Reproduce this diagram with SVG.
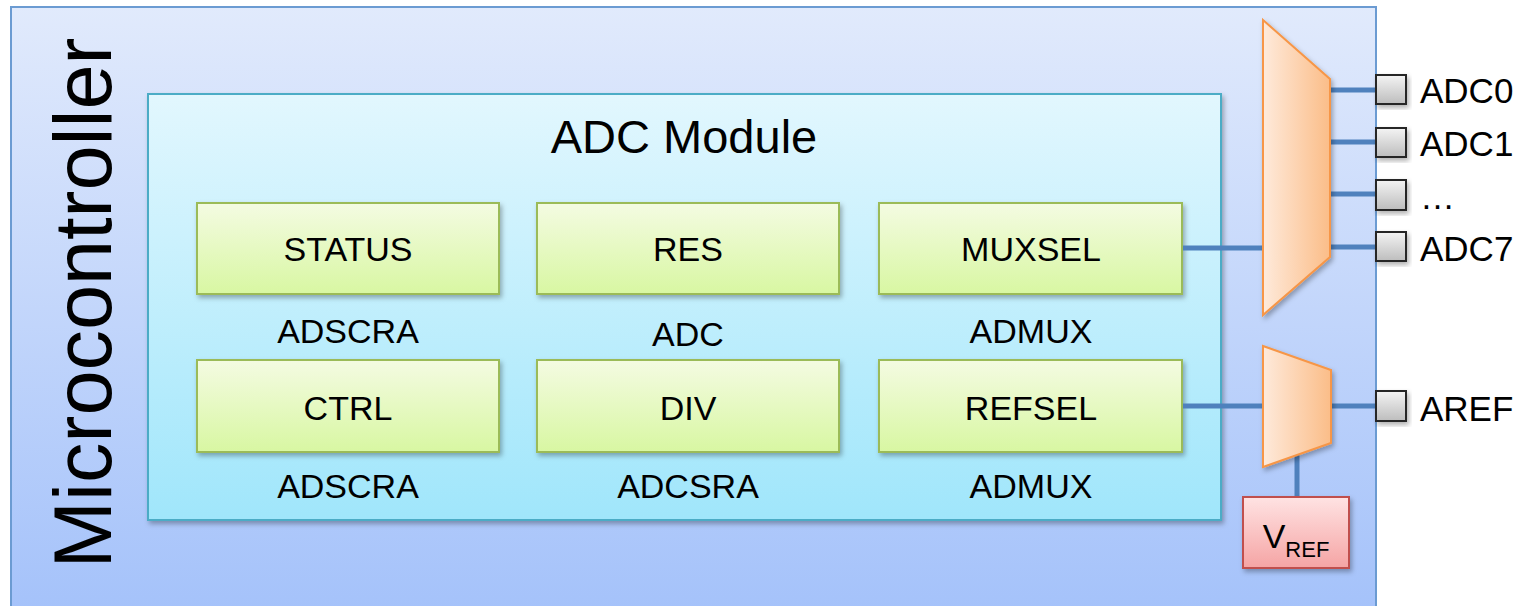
<svg xmlns="http://www.w3.org/2000/svg" width="1522" height="606" viewBox="0 0 1522 606">
<defs>
<linearGradient id="gOuter" x1="0" y1="0" x2="0" y2="1"><stop offset="0" stop-color="#e1eafc"/><stop offset="1" stop-color="#a3c1fa"/></linearGradient>
<linearGradient id="gAdc" x1="0" y1="0" x2="0" y2="1"><stop offset="0" stop-color="#e2f7fe"/><stop offset="1" stop-color="#a0e6fb"/></linearGradient>
<linearGradient id="gReg" x1="0" y1="0" x2="0" y2="1"><stop offset="0" stop-color="#f4fbe2"/><stop offset="1" stop-color="#d8f7a2"/></linearGradient>
<linearGradient id="gMux" x1="0" y1="0" x2="1" y2="0"><stop offset="0" stop-color="#feeadb"/><stop offset="1" stop-color="#fbbd88"/></linearGradient>
<linearGradient id="gPin" x1="0" y1="0" x2="0" y2="1"><stop offset="0" stop-color="#f4f4f4"/><stop offset="1" stop-color="#bdbdbd"/></linearGradient>
<linearGradient id="gRef" x1="0" y1="0" x2="0" y2="1"><stop offset="0" stop-color="#ffe3e3"/><stop offset="1" stop-color="#f5a4a4"/></linearGradient>
<filter id="sh" x="-10%" y="-10%" width="130%" height="130%"><feDropShadow dx="2" dy="3" stdDeviation="2.5" flood-color="#000" flood-opacity="0.3"/></filter>
</defs>
<style>
text{font-family:"Liberation Sans",Arial,sans-serif;fill:#000}
.reg{fill:url(#gReg);stroke:#9bbb59;stroke-width:2;filter:url(#sh)}
.rt{font-size:34px;text-anchor:middle}
.lbl{font-size:34px;text-anchor:middle}
.pin{fill:url(#gPin);stroke:#262626;stroke-width:2;filter:url(#sh)}
.pt{font-size:35px}
.mux{fill:url(#gMux);stroke:#f79646;stroke-width:2;filter:url(#sh)}
.wire{stroke:#4f81bd;stroke-width:5;fill:none}
</style>
<rect width="1522" height="606" fill="#ffffff"/>
<g id="microcontroller">
<rect x="11" y="7" width="1365" height="620" fill="url(#gOuter)" stroke="#6b9bd2" stroke-width="2"/>
<text transform="translate(111,303) rotate(-90)" font-size="81" text-anchor="middle">Microcontroller</text>
</g>
<g id="adc-module">
<rect x="148" y="94" width="1073" height="426" fill="url(#gAdc)" stroke="#4bacc6" stroke-width="2" filter="url(#sh)"/>
<text x="684" y="153" font-size="47" text-anchor="middle">ADC Module</text>
</g>
<g id="status"><rect class="reg" x="197" y="203" width="302" height="91"/><text class="rt" x="348" y="261">STATUS</text></g>
<g id="res"><rect class="reg" x="537" y="203" width="302" height="91"/><text class="rt" x="688" y="261">RES</text></g>
<g id="muxsel"><rect class="reg" x="879" y="203" width="303" height="91"/><text class="rt" x="1031" y="261">MUXSEL</text></g>
<g id="ctrl"><rect class="reg" x="197" y="360" width="302" height="92"/><text class="rt" x="348" y="420">CTRL</text></g>
<g id="div"><rect class="reg" x="537" y="360" width="302" height="92"/><text class="rt" x="688" y="420">DIV</text></g>
<g id="refsel"><rect class="reg" x="879" y="360" width="303" height="92"/><text class="rt" x="1031" y="420">REFSEL</text></g>
<g id="labels">
<text class="lbl" x="348" y="343">ADSCRA</text>
<text class="lbl" x="688" y="346" font-size="38">ADC</text>
<text class="lbl" x="1031" y="343">ADMUX</text>
<text class="lbl" x="348" y="498">ADSCRA</text>
<text class="lbl" x="688" y="498">ADCSRA</text>
<text class="lbl" x="1031" y="498">ADMUX</text>
</g>
<g id="connectors">
<line class="wire" x1="1183" y1="248" x2="1263" y2="248"/>
<line class="wire" x1="1330" y1="90" x2="1376" y2="90"/>
<line class="wire" x1="1330" y1="142" x2="1376" y2="142"/>
<line class="wire" x1="1330" y1="194" x2="1376" y2="194"/>
<line class="wire" x1="1330" y1="247" x2="1376" y2="247"/>
<line class="wire" x1="1183" y1="406" x2="1263" y2="406"/>
<line class="wire" x1="1331" y1="406" x2="1376" y2="406"/>
<line class="wire" x1="1297" y1="455" x2="1297" y2="497"/>
</g>
<g id="adc-mux"><polygon class="mux" points="1263,20 1330,79 1330,257 1263,315"/></g>
<g id="ref-mux"><polygon class="mux" points="1263,346 1331,370 1331,443 1263,467"/></g>
<g id="vref">
<rect x="1243" y="497" width="106" height="71" fill="url(#gRef)" stroke="#c0504d" stroke-width="2" filter="url(#sh)"/>
<text x="1296" y="548" font-size="34" text-anchor="middle">V<tspan font-size="22" dy="9">REF</tspan></text>
</g>
<g id="pin-adc0"><rect class="pin" x="1376" y="75" width="30" height="29"/><text class="pt" x="1420" y="103">ADC0</text></g>
<g id="pin-adc1"><rect class="pin" x="1376" y="128" width="30" height="29"/><text class="pt" x="1420" y="156">ADC1</text></g>
<g id="pin-dots"><rect class="pin" x="1376" y="180" width="30" height="30"/><text class="pt" x="1420" y="209">…</text></g>
<g id="pin-adc7"><rect class="pin" x="1376" y="232" width="30" height="29"/><text class="pt" x="1420" y="261">ADC7</text></g>
<g id="pin-aref"><rect class="pin" x="1376" y="391" width="30" height="30"/><text class="pt" x="1420" y="421">AREF</text></g>
</svg>
